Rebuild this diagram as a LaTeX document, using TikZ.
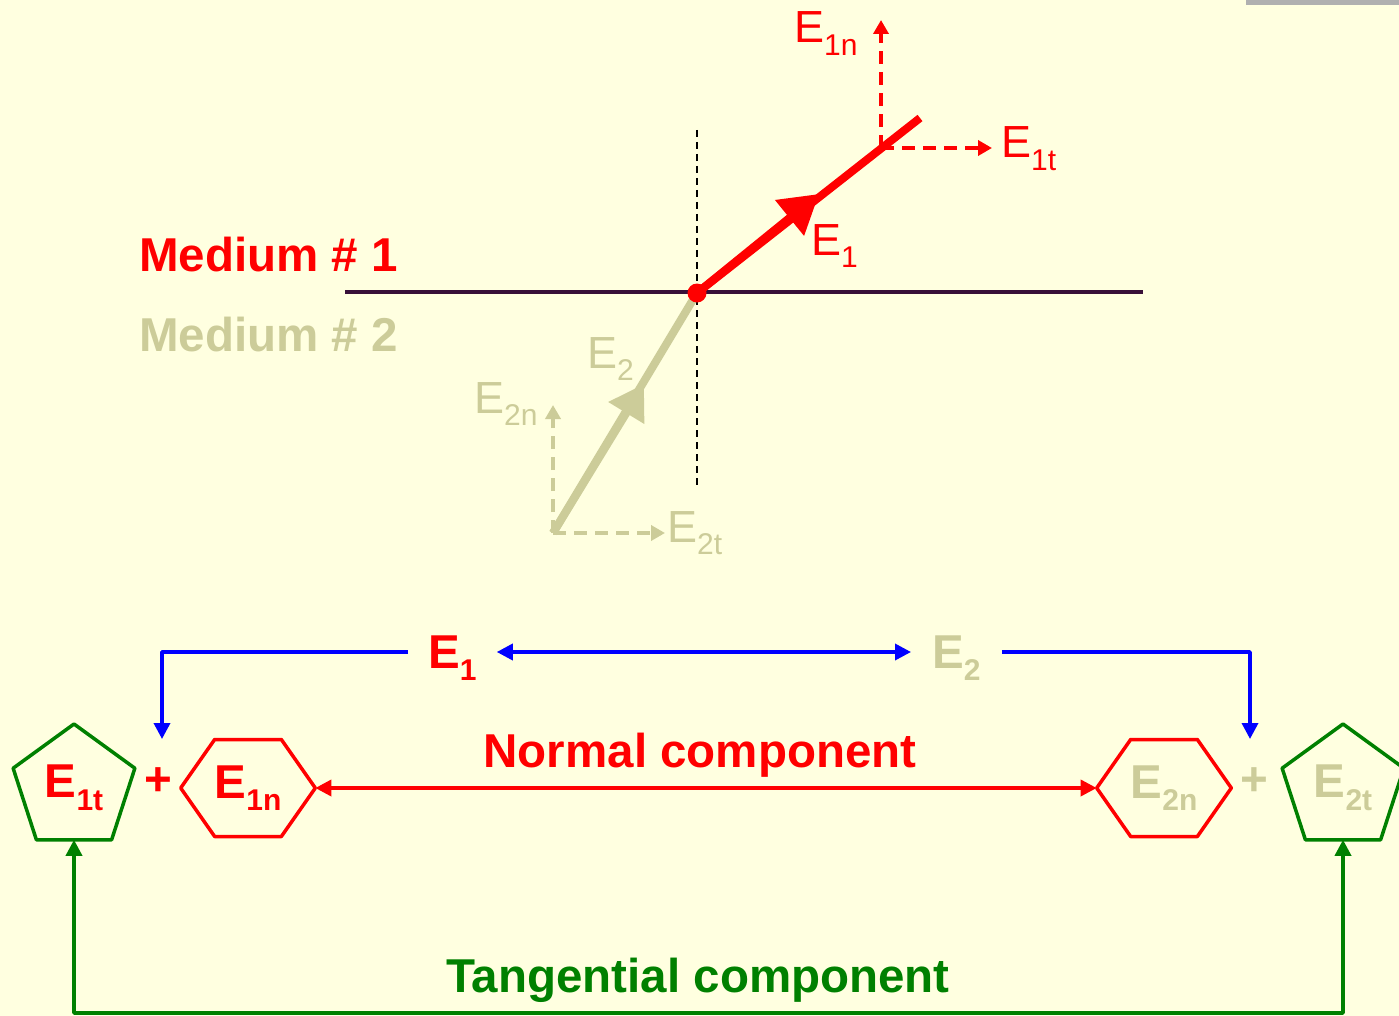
\documentclass[tikz,border=0pt]{standalone}
\usepackage{fontspec}
\setmainfont{Liberation Sans}
\usetikzlibrary{arrows.meta,shapes.geometric,shapes.symbols}

\definecolor{bgyellow}{RGB}{255,255,224}
\definecolor{tan}{RGB}{204,204,153}
\definecolor{darkgreen}{RGB}{0,128,0}
\definecolor{iface}{RGB}{56,16,56}

\newcommand\idx[1]{\raisebox{-12.5pt}{\fontsize{30}{30}\selectfont #1}}

\tikzset{
  lbl/.style={font=\fontsize{45}{54}\selectfont, inner sep=0pt, anchor=base west},
  bold/.style={font=\fontsize{47.5}{57}\selectfont\bfseries, inner sep=0pt},
  tip/.style={-{Triangle[length=14pt,width=15pt]}},
  comp/.style={line width=3.5pt, dash pattern=on 13pt off 8pt, tip},
  vec/.style={line width=8pt},
  pent/.style={regular polygon, regular polygon sides=5, minimum size=128pt, draw=darkgreen, line width=3.5pt, bold, outer sep=0pt},
  hexa/.style={signal, signal to=east and west, signal pointer angle=110, minimum width=130pt, minimum height=97pt, draw=red, line width=3.5pt, bold, outer sep=0pt},
  link/.style={line width=3.5pt, {Triangle[length=16pt,width=16pt]}-{Triangle[length=16pt,width=16pt]}}
}

\begin{document}
\begin{tikzpicture}[x=1pt, y=-1pt, line join=round]
  \fill[bgyellow] (0,0) rectangle (1399,1016);
  \useasboundingbox (0,0) rectangle (1399,1016);
  \fill[black!31] (1246,0) rectangle (1399,5);

  % the two media
  \node[bold, red, anchor=base west] (med1) at (139,272) {Medium \# 1};
  \node[bold, tan, anchor=base west] (med2) at (139,351) {Medium \# 2};
  \draw[iface, line width=3.5pt] (345,292) -- (1143,292);
  \draw[line width=2pt, dash pattern=on 7pt off 5pt] (697,130) -- (697,487);

  % field in medium 1
  \coordinate (O) at (697,293);
  \coordinate (e1tip) at (819,194);
  \coordinate (e1end) at (920,118);
  \coordinate (e1c) at (881,148);
  \coordinate (e1ntip) at (881,20);
  \coordinate (e1ttip) at (992,148);
  \draw[red, comp] (e1c) -- (e1ntip);
  \draw[red, comp] (e1c) -- (e1ttip);
  \draw[red, vec] (O) -- (e1end);
  \draw[red, vec, -{Triangle[length=38pt,width=44pt]}] (O) -- (e1tip);
  \node[lbl, red] (e1n) at (794,43) {E\idx{1n}};
  \node[lbl, red] (e1t) at (1001,158) {E\idx{1t}};
  \node[lbl, red] (e1) at (811,255) {E\idx{1}};

  % field in medium 2
  \coordinate (e2o) at (553,533);
  \coordinate (e2tip) at (644,384);
  \coordinate (e2ntip) at (553,405);
  \coordinate (e2ttip) at (665,533);
  \draw[tan, comp] (e2o) -- (e2ntip);
  \draw[tan, comp] (e2o) -- (e2ttip);
  \draw[tan, vec] (e2o) -- (O);
  \draw[tan, vec, -{Triangle[length=34pt,width=40pt]}] (e2o) -- (e2tip);
  \fill[red] (O) circle (9.5pt);
  \node[lbl, tan] (e2) at (587,368) {E\idx{2}};
  \node[lbl, tan] (e2n) at (474,413) {E\idx{2n}};
  \node[lbl, tan] (e2t) at (667,542) {E\idx{2t}};

  % boundary conditions
  \node[bold, red, anchor=west, inner xsep=20pt, text depth=0pt] (b1) at (408,652) {E\idx{1}};
  \node[bold, tan, anchor=west, inner xsep=21pt, text depth=0pt] (b2) at (911,652) {E\idx{2}};
  \node[pent, text=red] (p1) at (74,788) {E\idx{1t}};
  \node[hexa, text=red] (h1) at (248,788) {E\idx{1n}};
  \node[hexa, text=tan] (h2) at (1164,788) {E\idx{2n}};
  \node[pent, text=tan] (p2) at (1343,788) {E\idx{2t}};
  \node[bold, red] (plus1) at (158,782) {+};
  \node[bold, tan] (plus2) at (1254,782) {+};
  \coordinate (in1) at (162,739);
  \coordinate (in2) at (1250,739);
  \coordinate (tb) at (700,1013);

  \draw[blue, link] (b1) -- (b2);
  \draw[blue, line width=3.5pt, -{Triangle[length=16pt,width=16pt]}] (b1.west) -| (in1);
  \draw[blue, line width=3.5pt, -{Triangle[length=16pt,width=16pt]}] (b2.east) -| (in2);
  \draw[red, link] (h1.east) -- (h2.west);
  \draw[darkgreen, link] (p1.south) |- (tb) -| (p2.south);
  \node[bold, red, anchor=base] (nc) at (700,767) {Normal component};
  \node[bold, darkgreen, anchor=base] (tc) at (698,992) {Tangential component};
\end{tikzpicture}
\end{document}
